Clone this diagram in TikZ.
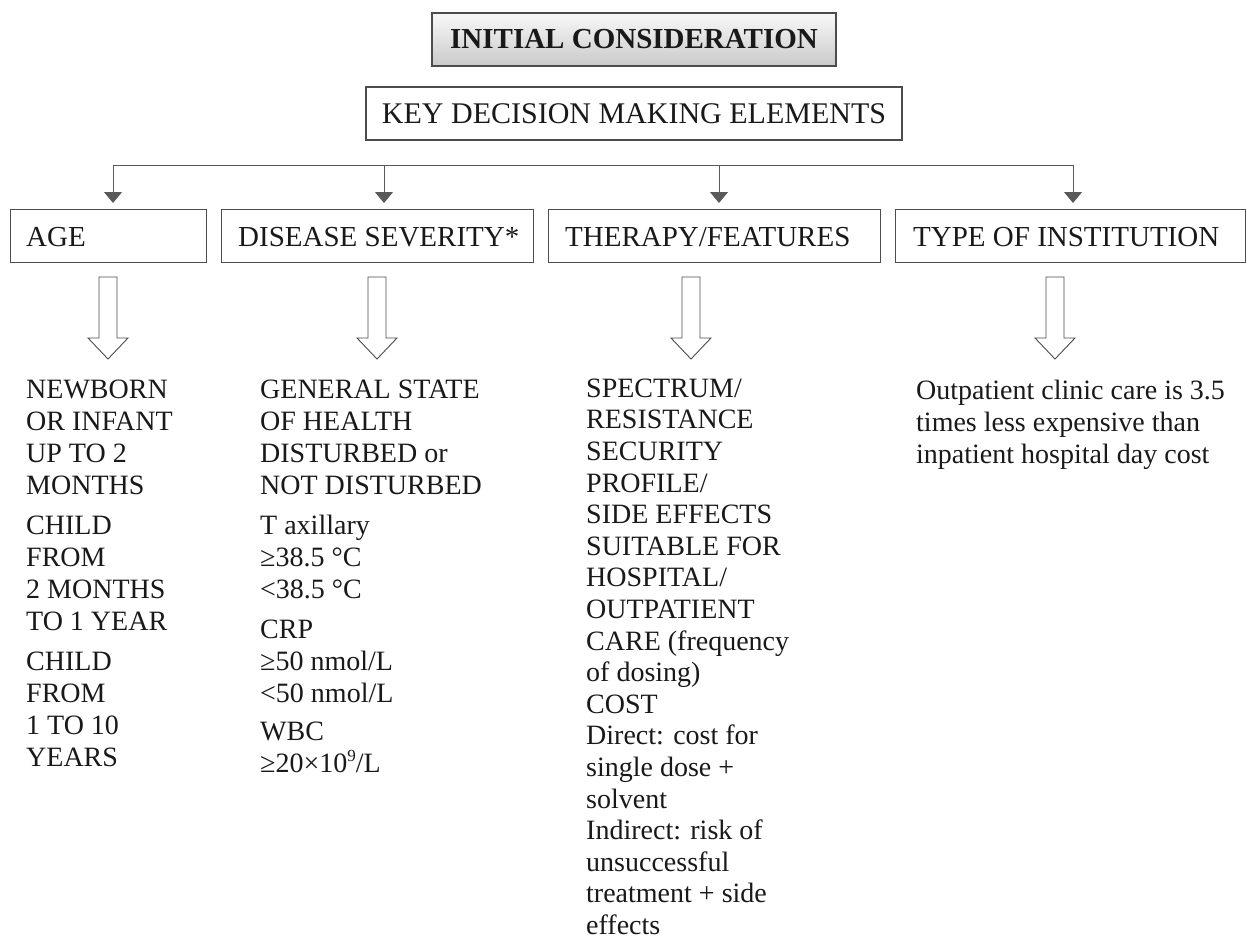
\documentclass[tikz,border=0pt]{standalone}
\usepackage{fontspec}
\setmainfont{Liberation Serif}
\usetikzlibrary{arrows.meta}
\begin{document}
\begin{tikzpicture}[x=1pt,y=-1pt,
  hdrbox/.style={draw=black!70, line width=1.1pt, rectangle, inner sep=0pt, minimum height=53pt, anchor=north west},
  htext/.style={font=\fontsize{29}{34}\selectfont, text=black!90, anchor=base west, inner sep=0pt},
  body/.style={font=\fontsize{28}{32}\selectfont, align=left, anchor=north west, inner sep=0pt, text=black!90},
  conn/.style={draw=black!65, line width=1pt},
  arr/.style={conn, -{Triangle[width=18pt,length=11pt]}, shorten >=6pt},
  blk/.style={draw=black!70, line width=0.9pt, fill=white},
  blockarrow/.pic={\draw[blk] (-9,0) -- (9,0) -- (9,61) -- (20,61) -- (0,82) -- (-20,61) -- (-9,61) -- cycle;}
]
\useasboundingbox (0,0) rectangle (1247,943);

% top boxes
\node[draw=black!70, line width=1.1pt, top color=gray!5, bottom color=gray!42,
      minimum width=404pt, minimum height=53pt, inner sep=0pt,
      font=\bfseries\fontsize{29}{34}\selectfont, text=black!90] (init) at (634,39.5) {INITIAL CONSIDERATION};
\node[draw=black!70, line width=1.1pt, minimum width=536pt, minimum height=53pt, inner sep=0pt,
      font=\fontsize{30}{34}\selectfont, text=black!90] (key) at (634,113.5) {KEY DECISION MAKING ELEMENTS};

% header boxes
\node[hdrbox, minimum width=196pt] (age) at (10,209) {};
\node[hdrbox, minimum width=312pt] (dis) at (221,209) {};
\node[hdrbox, minimum width=332pt] (ther) at (548,209) {};
\node[hdrbox, minimum width=350pt] (inst) at (895,209) {};
\node[htext] (ageT) at (26,246) {AGE};
\node[htext] (disT) at (238,246) {DISEASE SEVERITY*};
\node[htext] (therT) at (565,246) {THERAPY/FEATURES};
\node[htext] (instT) at (913,246) {TYPE OF INSTITUTION};

% bus and arrows
\coordinate (b1) at (113,165);
\coordinate (b2) at (384,165);
\coordinate (b3) at (719,165);
\coordinate (b4) at (1073,165);
\draw[conn] (b1) -- (b4);
\draw[arr] (b1) -- (b1 |- age.north);
\draw[arr] (b2) -- (b2 |- dis.north);
\draw[arr] (b3) -- (b3 |- ther.north);
\draw[arr] (b4) -- (b4 |- inst.north);

% block arrows
\pic at (108,277) {blockarrow};
\pic at (377,277) {blockarrow};
\pic at (691,277) {blockarrow};
\pic at (1055,277) {blockarrow};

% column texts
\node[body] (c1) at (26,376) {\strut NEWBORN\\OR INFANT\\UP TO 2\\MONTHS\\[8pt]CHILD\\FROM\\2 MONTHS\\TO 1 YEAR\\[8pt]CHILD\\FROM\\1 TO 10\\YEARS};
\node[body] (c2) at (260,376) {\strut GENERAL STATE\\OF HEALTH\\DISTURBED or\\NOT DISTURBED\\[8pt]T axillary\\≥38.5 °C\\<38.5 °C\\[8pt]CRP\\≥50 nmol/L\\<50 nmol/L\\[6pt]WBC\\≥20×10\raisebox{0.38em}{\fontsize{17}{17}\selectfont 9}/L};
\node[body, font=\fontsize{28}{31.6}\selectfont] (c3) at (586,375) {\strut SPECTRUM/\\RESISTANCE\\SECURITY\\PROFILE/\\SIDE EFFECTS\\SUITABLE FOR\\HOSPITAL/\\OUTPATIENT\\CARE (frequency\\of dosing)\\COST\\Direct: cost for\\single dose +\\solvent\\Indirect: risk of\\unsuccessful\\treatment + side\\effects};
\node[body] (c4) at (916,377) {\strut Outpatient clinic care is 3.5\\times less expensive than\\inpatient hospital day cost};
\end{tikzpicture}
\end{document}
